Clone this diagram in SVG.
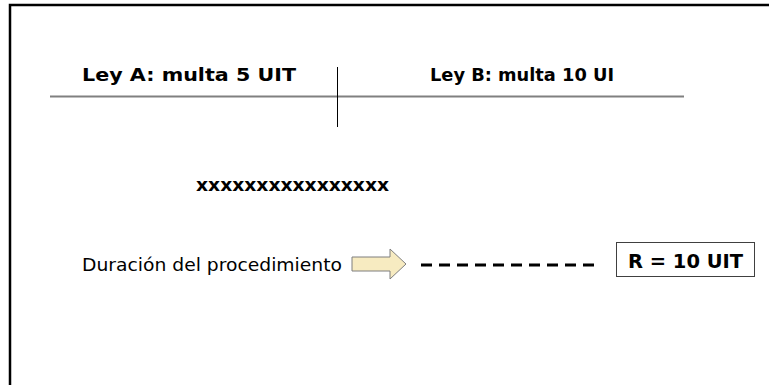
<svg xmlns="http://www.w3.org/2000/svg" width="769" height="385" viewBox="0 0 769 385">
<style>
.b{font-family:"DejaVu Sans Condensed","DejaVu Sans","Liberation Sans",sans-serif;font-weight:bold;fill:#000}
.n{font-family:"DejaVu Sans","Liberation Sans",sans-serif;fill:#000}
</style>
<rect width="769" height="385" fill="#fff"/>
<g id="frame">
<path d="M10,385 V5 H769" fill="none" stroke="#000" stroke-width="2.5"/>
</g>
<g id="table">
<line x1="50" y1="96.5" x2="684" y2="96.5" stroke="#808080" stroke-width="2"/>
<line x1="337.5" y1="67" x2="337.5" y2="127" stroke="#000" stroke-width="1"/>
<text class="b" x="82" y="81" font-size="18" textLength="214" lengthAdjust="spacingAndGlyphs">Ley A: multa 5 UIT</text>
<text class="b" x="430" y="81" font-size="18" textLength="184" lengthAdjust="spacingAndGlyphs">Ley B: multa 10 UI</text>
</g>
<g id="xs">
<text class="b" x="196" y="191" font-size="18" textLength="193" lengthAdjust="spacingAndGlyphs">xxxxxxxxxxxxxxxx</text>
</g>
<g id="duracion">
<text class="n" x="82" y="271" font-size="17.5" textLength="260" lengthAdjust="spacingAndGlyphs">Duración del procedimiento</text>
</g>
<g id="arrow">
<path d="M352,257 H390 V249 L406,264 L390,279 V271 H352 Z" fill="#F7EBC1" stroke="#7f7f7f" stroke-width="1"/>
</g>
<g id="connectors">
<line x1="421" y1="265" x2="597" y2="265" stroke="#000" stroke-width="3" stroke-dasharray="11,7"/>
</g>
<g id="result">
<rect x="616.5" y="242.5" width="138" height="34" fill="#fff" stroke="#404040" stroke-width="1"/>
<text class="b" x="628" y="268" font-size="20" textLength="115" lengthAdjust="spacingAndGlyphs">R = 10 UIT</text>
</g>
</svg>
